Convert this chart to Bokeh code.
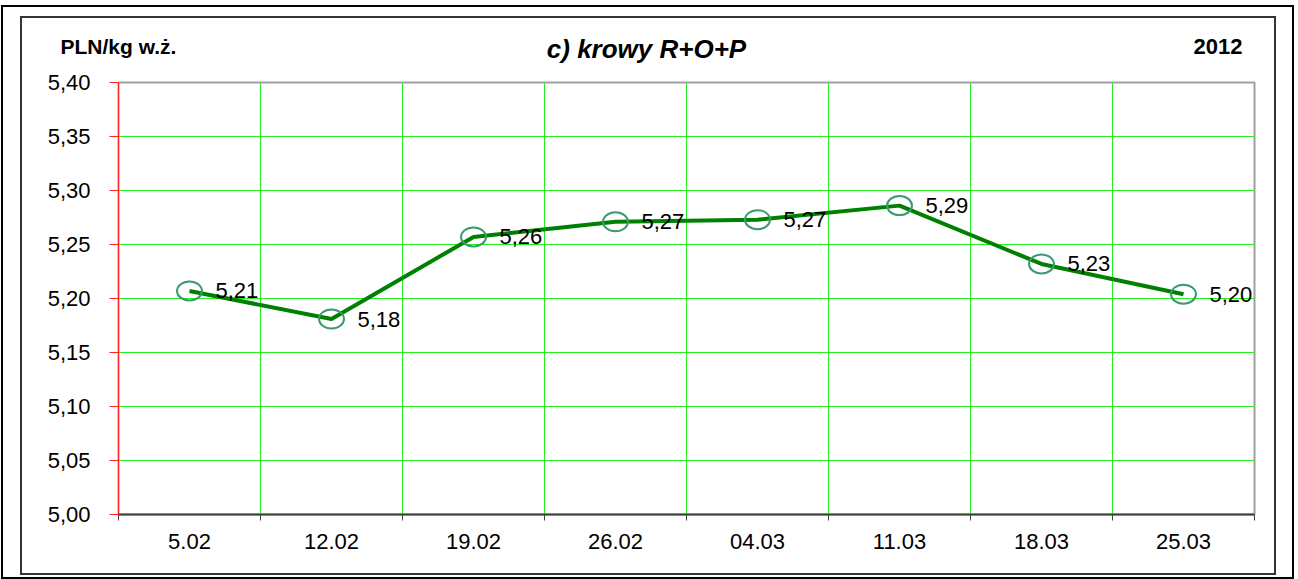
from bokeh.plotting import figure
from bokeh.layouts import column
from bokeh.models import FixedTicker, ColumnDataSource, Range1d
from bokeh.core.properties import value
from bokeh.embed import file_html
from bokeh.resources import INLINE

# ---- data ----
categories = ["5.02", "12.02", "19.02", "26.02", "04.03", "11.03", "18.03", "25.03"]
prices = [5.207, 5.181, 5.257, 5.271, 5.273, 5.286, 5.232, 5.204]
y_ticks = [5.00, 5.05, 5.10, 5.15, 5.20, 5.25, 5.30, 5.35, 5.40]
y_tick_labels = ["5,00", "5,05", "5,10", "5,15", "5,20", "5,25", "5,30", "5,35", "5,40"]
unit_label = "PLN/kg w.ż."
title_text = "c) krowy R+O+P"
year_text = "2012"

FONT = "Liberation Sans"
n = len(categories)
xs = [i + 0.5 for i in range(n)]
point_labels = [f"{v:.2f}".replace(".", ",") for v in prices]

IW = 1252          # inner box width
HEAD_H = 48
CHART_H = 507

# ---- header strip (texts above the plot area) ----
head = figure(width=IW, height=HEAD_H, output_backend="svg", toolbar_location=None,
              x_range=Range1d(0, IW), y_range=Range1d(HEAD_H, 0),
              x_axis_location=None, y_axis_location=None,
              min_border_left=0, min_border_right=0, min_border_top=0,
              min_border_bottom=0, background_fill_color=None,
              border_fill_color=None, outline_line_color=None)
head.frame_align = False
head.xgrid.grid_line_color = None
head.ygrid.grid_line_color = None
head_src = ColumnDataSource(dict(
    x=[38, 624, 1220], y=[27.5, 30, 28],
    t=[unit_label, title_text, year_text],
    size=["21px", "26px", "22px"],
    style=["bold", "bold italic", "bold"],
    align=["left", "center", "right"],
))
head.text("x", "y", text="t", source=head_src, text_font=value(FONT),
          text_font_size="size", text_font_style="style", text_align="align",
          text_baseline="middle", text_color="black")

# ---- chart ----
src = ColumnDataSource(dict(x=xs, y=prices, lab=point_labels))

p = figure(width=IW, height=CHART_H, output_backend="svg", toolbar_location=None,
           x_range=Range1d(0, n), y_range=Range1d(y_ticks[0], y_ticks[-1]),
           min_border_left=96, min_border_right=20, min_border_top=16,
           min_border_bottom=59, background_fill_color="white",
           border_fill_color=None)
p.frame_align = False

p.outline_line_color = "#a0a0a0"
p.outline_line_width = 2

# x axis: labels at centres, tick marks at boundaries (minor ticks)
xt = FixedTicker(ticks=xs, minor_ticks=list(range(n + 1)))
p.xaxis.ticker = xt
p.xaxis.major_label_overrides = {x: c for x, c in zip(xs, categories)}
p.xaxis.major_tick_line_color = None
p.xaxis.major_tick_out = 0
p.xaxis.major_tick_in = 0
p.xaxis.minor_tick_out = 6
p.xaxis.minor_tick_in = 0
p.xaxis.minor_tick_line_color = "#404040"
p.xaxis.axis_line_color = "#404040"
p.xaxis.axis_line_width = 2
p.xaxis.major_label_standoff = 13
p.xaxis.major_label_text_font = FONT
p.xaxis.major_label_text_font_size = "22px"
p.xaxis.major_label_text_color = "black"

# y axis
p.yaxis.ticker = FixedTicker(ticks=y_ticks, minor_ticks=[])
p.yaxis.major_label_overrides = {t: l for t, l in zip(y_ticks, y_tick_labels)}
p.yaxis.axis_line_color = "#ff2020"
p.yaxis.axis_line_width = 1
p.yaxis.major_tick_line_color = "#ff2020"
p.yaxis.major_tick_out = 9
p.yaxis.major_tick_in = 0
p.yaxis.minor_tick_line_color = None
p.yaxis.major_label_standoff = 19
p.yaxis.major_label_text_font = FONT
p.yaxis.major_label_text_font_size = "22px"
p.yaxis.major_label_text_color = "black"

# grids
p.xgrid.ticker = xt
p.xgrid.grid_line_color = None
p.xgrid.minor_grid_line_color = "#22ee22"
p.xgrid.minor_grid_line_width = 1
p.ygrid.grid_line_color = "#22ee22"
p.ygrid.grid_line_width = 1

# series
p.line("x", "y", source=src, line_color="#008000", line_width=4)
p.ellipse("x", "y", source=src, width=25, height=19, width_units="screen",
          height_units="screen", fill_color=None, line_color="#3a9a6e",
          line_width=2)
p.text("x", "y", text="lab", source=src, x_offset=26, text_baseline="middle",
       text_align="left", text_font=value(FONT), text_font_size="22px",
       text_color="black")

inner = column(head, p, spacing=0, margin=(13, 20, 6, 21))
inner.styles = {"outline": "2px solid #333333", "background-color": "white"}

outer = column(inner, spacing=0, margin=(5, 0, 0, 1))
outer.styles = {
    "background-color": "white",
    "outline": "2px solid black",
    "outline-offset": "-2px",
}

open("out.html", "w").write(file_html(outer, INLINE))
